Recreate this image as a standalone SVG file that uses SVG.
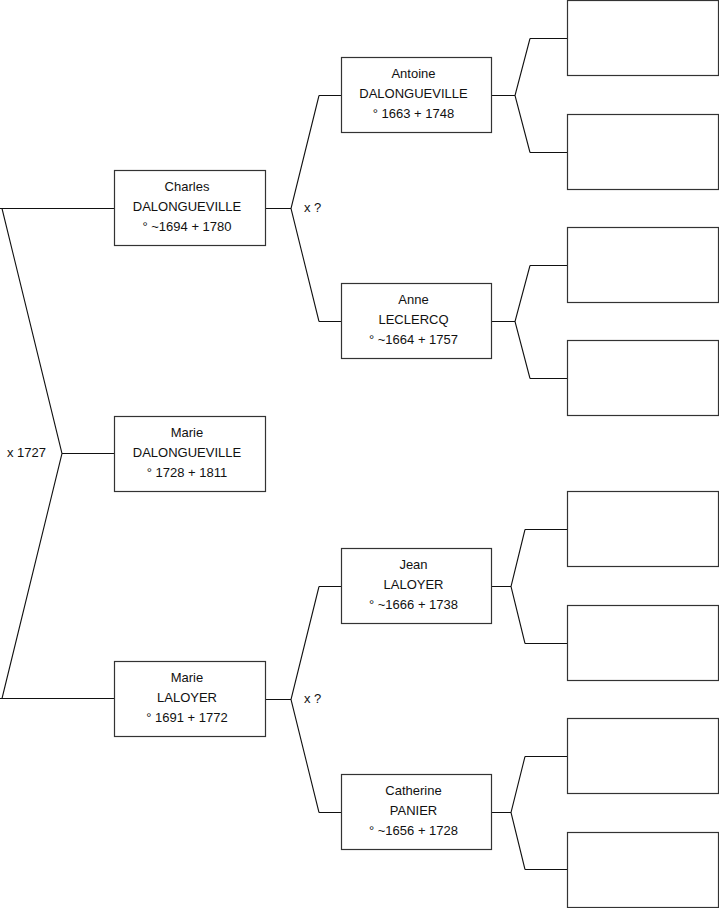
<svg xmlns="http://www.w3.org/2000/svg" width="719" height="908" viewBox="0 0 719 908">
<style>
.box{fill:#fff;stroke:#333;stroke-width:1.2}
.ln{fill:none;stroke:#111;stroke-width:1.1}
text{font-family:"Liberation Sans",Arial,sans-serif;font-size:13px;fill:#111;text-anchor:middle}
.lbl{text-anchor:start}
</style>
<rect width="719" height="908" fill="#fff"/>
<g id="connectors">
<path class="ln" d="M0,208.5 H114 M2,208.5 L62,453.5 L2,698.5 M62,453.5 H114 M0,698.5 H114"/>
<path class="ln" d="M265,208.5 H291 M319,95.5 L291,208.5 L319,321.5 M319,95.5 H341 M319,321.5 H341"/>
<path class="ln" d="M265,699.5 H291 M319,586.5 L291,699.5 L319,812.5 M319,586.5 H341 M319,812.5 H341"/>
<path class="ln" d="M492,95.5 H515 M530,38.5 L515,95.5 L530,152.5 M530,38.5 H567 M530,152.5 H567"/>
<path class="ln" d="M492,321.5 H515 M530,265.5 L515,321.5 L530,378.5 M530,265.5 H567 M530,378.5 H567"/>
<path class="ln" d="M492,586.5 H511 M525,529.5 L511,586.5 L525,643.5 M525,529.5 H567 M525,643.5 H567"/>
<path class="ln" d="M492,812.5 H511 M525,756.5 L511,812.5 L525,869.5 M525,756.5 H567 M525,869.5 H567"/>
<text class="lbl" x="7" y="457">x 1727</text>
<text class="lbl" x="304" y="212">x ?</text>
<text class="lbl" x="304" y="703">x ?</text>
</g>
<g id="charles"><rect class="box" x="114.5" y="170.5" width="151" height="75"/><text x="187" y="191">Charles</text><text x="187" y="211">DALONGUEVILLE</text><text x="187" y="231">° ~1694 + 1780</text></g>
<g id="marie-d"><rect class="box" x="114.5" y="416.5" width="151" height="75"/><text x="187" y="437">Marie</text><text x="187" y="457">DALONGUEVILLE</text><text x="187" y="477">° 1728 + 1811</text></g>
<g id="marie-l"><rect class="box" x="114.5" y="661.5" width="151" height="75"/><text x="187" y="682">Marie</text><text x="187" y="702">LALOYER</text><text x="187" y="722">° 1691 + 1772</text></g>
<g id="antoine"><rect class="box" x="341.5" y="57.5" width="150" height="75"/><text x="413.5" y="78">Antoine</text><text x="413.5" y="98">DALONGUEVILLE</text><text x="413.5" y="118">° 1663 + 1748</text></g>
<g id="anne"><rect class="box" x="341.5" y="283.5" width="150" height="75"/><text x="413.5" y="304">Anne</text><text x="413.5" y="324">LECLERCQ</text><text x="413.5" y="344">° ~1664 + 1757</text></g>
<g id="jean"><rect class="box" x="341.5" y="548.5" width="150" height="75"/><text x="413.5" y="569">Jean</text><text x="413.5" y="589">LALOYER</text><text x="413.5" y="609">° ~1666 + 1738</text></g>
<g id="catherine"><rect class="box" x="341.5" y="774.5" width="150" height="75"/><text x="413.5" y="795">Catherine</text><text x="413.5" y="815">PANIER</text><text x="413.5" y="835">° ~1656 + 1728</text></g>
<g id="p1"><rect class="box" x="567.5" y="0.5" width="151" height="75"/></g>
<g id="p2"><rect class="box" x="567.5" y="114.5" width="151" height="75"/></g>
<g id="p3"><rect class="box" x="567.5" y="227.5" width="151" height="75"/></g>
<g id="p4"><rect class="box" x="567.5" y="340.5" width="151" height="75"/></g>
<g id="p5"><rect class="box" x="567.5" y="491.5" width="151" height="75"/></g>
<g id="p6"><rect class="box" x="567.5" y="605.5" width="151" height="75"/></g>
<g id="p7"><rect class="box" x="567.5" y="718.5" width="151" height="75"/></g>
<g id="p8"><rect class="box" x="567.5" y="832.5" width="151" height="75"/></g>
</svg>
